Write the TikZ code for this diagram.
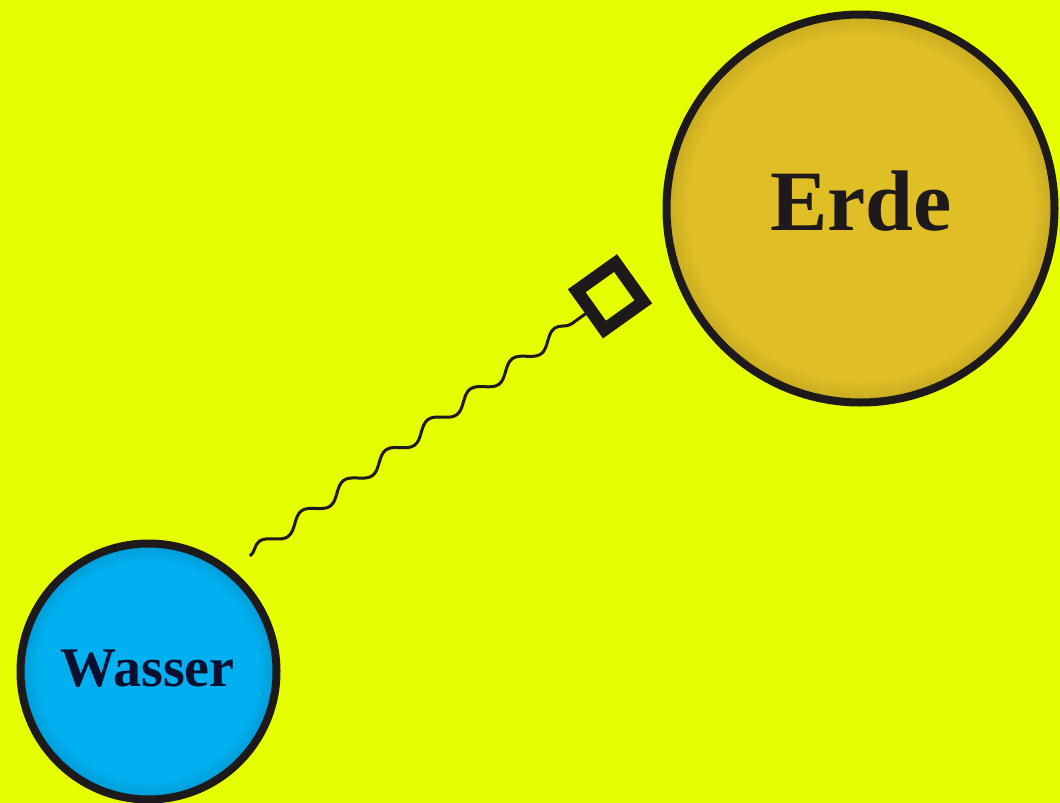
\documentclass[tikz,border=0pt]{standalone}
\usepackage{fontspec}
\setmainfont{Liberation Serif}
\usetikzlibrary{decorations.pathmorphing}
\definecolor{bgyellow}{HTML}{E6FF00}
\definecolor{erdefill}{HTML}{DFBE26}
\definecolor{wasserfill}{HTML}{00B0F0}
\definecolor{inkdark}{HTML}{1E1A1C}
\definecolor{navyink}{HTML}{0B1030}
\tikzset{
  planet/.style={circle, draw=inkdark, line width=8pt, inner sep=0pt},
  wave/.style={draw=inkdark, line width=3pt, decorate,
    decoration={snake, segment length=52pt, amplitude=6.5pt}},
  tipbox/.style={draw=inkdark, line width=12.7pt, minimum size=47.7pt,
    inner sep=0pt, rotate=35.5}
}
\begin{document}
\begin{tikzpicture}[x=1pt,y=-1pt]
\fill[bgyellow] (0,0) rectangle (1060,803);
\useasboundingbox (0,0) rectangle (1060,803);
% Erde
\fill[erdefill] (860.5,208.5) circle (194);
\foreach \i in {1,...,10}{
  \draw[black, opacity={0.09*(11-\i)/10}, line width=2pt] (860.5,208.5) circle ({194-2*\i});
}
\node[planet, minimum size=388pt] (erde) at (860.5,208.5) {};
\node[font=\bfseries\fontsize{86}{86}\selectfont, text=inkdark] (erdelabel) at (861,201) {Erde};
% Wasser
\fill[wasserfill] (148.5,671.5) circle (128);
\foreach \i in {1,...,8}{
  \draw[black, opacity={0.1*(9-\i)/8}, line width=2pt] (148.5,671.5) circle ({128-2*\i});
}
\node[planet, minimum size=256pt] (wasser) at (148.5,671.5) {};
\node[font=\bfseries\fontsize{56}{56}\selectfont, text=navyink] (wasserlabel) at (147.5,668.5) {Wasser};
% connector
\coordinate (wstart) at (250,556);
\node[tipbox] (sq) at (610,296.3) {};
\draw[wave] (wstart) -- (sq.west);
\end{tikzpicture}
\end{document}
